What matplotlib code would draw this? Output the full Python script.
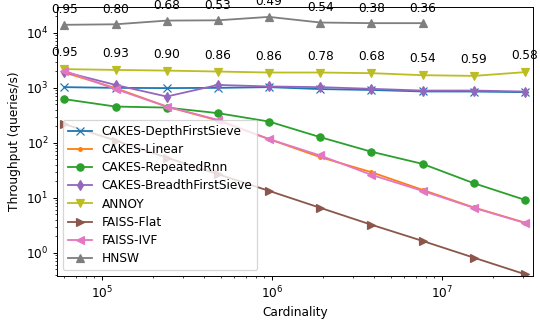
import matplotlib
matplotlib.use('Agg')
import matplotlib.pyplot as plt
import numpy as np

# Cardinalities (base dataset scaled by powers of two)
cardinality = [60000 * 2 ** k for k in range(10)]

# Throughput (queries/s)
dfs = [1030, 1000, 990, 1000, 1030, 950, 915, 860, 857, 835]
linear = [1900, 990, 457, 255, 117, 55, 29.3, 14, 6.7, 3.55]
repeated_rnn = [623, 457, 438, 347, 244, 127, 69, 41.5, 18.5, 9.2]
bfs = [1950, 1130, 695, 1130, 1060, 1030, 960, 893, 893, 857]
annoy = [2190, 2120, 2060, 1980, 1900, 1900, 1850, 1700, 1650, 1930]
faiss_flat = [220, 110, 54, 27, 13.4, 6.6, 3.25, 1.65, 0.82, 0.41]
faiss_ivf = [2040, 950, 457, 262, 117, 59, 26.2, 13.4, 6.6, 3.5]
hnsw = [14000, 14300, 16700, 16900, 19500, 15400, 15000, 15000]

# Recall labels shown above ANNOY and HNSW
annoy_recall = ['0.95', '0.93', '0.90', '0.86', '0.86', '0.78', '0.68', '0.54', '0.59', '0.58']
hnsw_recall = ['0.95', '0.80', '0.68', '0.53', '0.49', '0.54', '0.38', '0.36']

series = [
    ('CAKES-DepthFirstSieve', dfs, 'tab:blue', 'x'),
    ('CAKES-Linear', linear, 'tab:orange', '.'),
    ('CAKES-RepeatedRnn', repeated_rnn, 'tab:green', 'o'),
    ('CAKES-BreadthFirstSieve', bfs, 'tab:purple', 'd'),
    ('ANNOY', annoy, 'tab:olive', 'v'),
    ('FAISS-Flat', faiss_flat, 'tab:brown', '>'),
    ('FAISS-IVF', faiss_ivf, 'tab:pink', '<'),
    ('HNSW', hnsw, 'tab:gray', '^'),
]

dpi = 87
fig = plt.figure(figsize=(540 / dpi, 322 / dpi), dpi=dpi)
ax = fig.add_axes([57 / 540, 46 / 322, 476 / 540, 269 / 322])

for name, values, color, marker in series:
    ax.plot(cardinality[:len(values)], values, label=name, color=color, marker=marker)

# Recall annotations
for x, y, txt in zip(cardinality, annoy, annoy_recall):
    ax.annotate(txt, (x, y), xytext=(0, 13.5), textcoords='offset points',
                ha='center', va='center')
for x, y, txt in zip(cardinality, hnsw, hnsw_recall):
    ax.annotate(txt, (x, y), xytext=(0, 12.5), textcoords='offset points',
                ha='center', va='center')

ax.set_xscale('log')
ax.set_yscale('log')
ax.set_xlim(54300, 3.43e7)
ax.set_ylim(0.38, 29500)

ax.set_xlabel('Cardinality')
ax.set_ylabel('Throughput (queries/s)')
ax.legend(loc='lower left', labelspacing=0.43)

plt.savefig('out.png', dpi=dpi)
